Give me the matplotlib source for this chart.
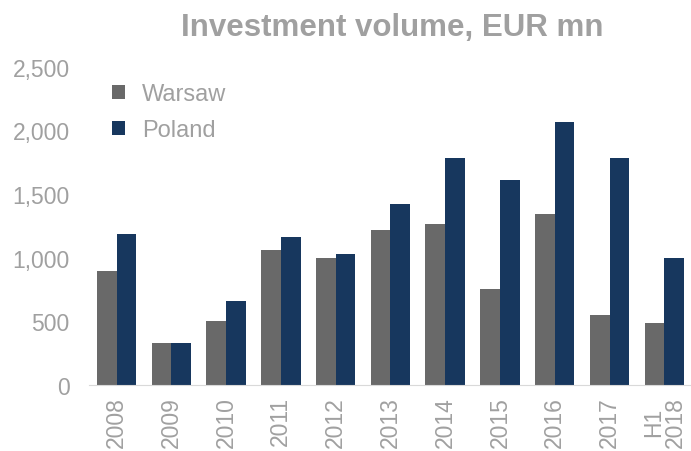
import matplotlib.pyplot as plt
import numpy as np

# Investment volume by year, EUR mn
years = ['2008', '2009', '2010', '2011', '2012', '2013', '2014',
         '2015', '2016', '2017', 'H1\n2018']
warsaw = [895, 330, 505, 1060, 1000, 1220, 1265, 755, 1345, 550, 490]
poland = [1190, 330, 660, 1160, 1030, 1425, 1780, 1610, 2065, 1780, 1000]

grey_txt = '#a0a0a0'
plt.rcParams['font.family'] = ['Liberation Sans', 'DejaVu Sans']

fig = plt.figure(figsize=(6.91, 4.52), dpi=100)
ax = fig.add_axes([0.129, 0.146, 0.872, 0.704])

x = np.arange(len(years))
w = 0.36
ax.bar(x - w/2, warsaw, width=w, color='#696969', label='Warsaw')
ax.bar(x + w/2, poland, width=w, color='#17375e', label='Poland')

ax.set_xlim(-0.5, len(years) - 0.5)
ax.set_ylim(0, 2500)
ax.set_yticks(np.arange(0, 2501, 500))
ax.yaxis.set_major_formatter(plt.FuncFormatter(lambda v, p: f'{int(v):,}'))
ax.set_xticks(x)
ax.set_xticklabels(years, rotation=90, linespacing=0.95)
ax.tick_params(axis='both', length=0, labelsize=16.5, colors=grey_txt)
ax.tick_params(axis='y', pad=14)
ax.tick_params(axis='x', pad=8)

for s in ['top', 'right', 'left']:
    ax.spines[s].set_visible(False)
ax.spines['bottom'].set_color('#d9d9d9')

fig.text(0.567, 0.937, 'Investment volume, EUR mn', ha='center', va='center',
         fontsize=22.5, fontweight='bold', color=grey_txt)

leg = ax.legend(loc='upper left', bbox_to_anchor=(0.003, 1.015), frameon=False,
                fontsize=17, handlelength=0.55, handleheight=0.55,
                handletextpad=0.7, labelspacing=0.6)
for t in leg.get_texts():
    t.set_color(grey_txt)

fig.savefig('out.png', dpi=100)
